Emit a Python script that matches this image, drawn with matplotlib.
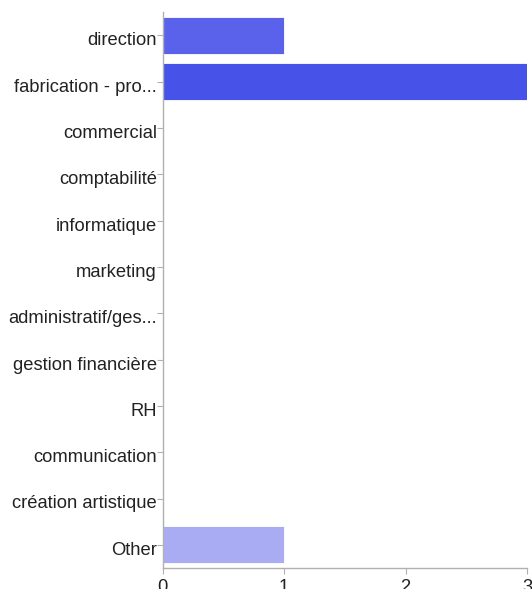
import matplotlib
matplotlib.use("Agg")
import matplotlib.pyplot as plt
import matplotlib.transforms as mtransforms

categories = ["direction", "fabrication - pro...", "commercial", "comptabilité",
              "informatique", "marketing", "administratif/ges...", "gestion financière",
              "RH", "communication", "création artistique", "Other"]
values = [1, 3, 0, 0, 0, 0, 0, 0, 0, 0, 0, 1]
colors = ["#5a62ec", "#4752e8", "#5a62ec", "#5a62ec", "#5a62ec", "#5a62ec",
          "#5a62ec", "#5a62ec", "#5a62ec", "#5a62ec", "#5a62ec", "#a9acf2"]
xticks = [0, 1, 2, 3]

plt.rcParams['font.family'] = ['Liberation Sans', 'DejaVu Sans']

fig = plt.figure(figsize=(5.32, 5.89), dpi=100)
W, H = 532, 589
ax = fig.add_axes([162.5 / W, 1 - 568 / H, (527 - 162.5) / W, (568 - 12) / H])

ypos = list(range(len(categories)))
ax.barh(ypos, values, height=0.8, color=colors, edgecolor="white", linewidth=0.6)
ax.set_ylim(len(categories) - 0.5, -0.5)
ax.set_xlim(0, 3)
ax.set_yticks(ypos)
ax.set_yticklabels(categories, fontsize=13.2, color="#222222")
ax.set_xticks(xticks)
ax.set_xticklabels([str(t) for t in xticks], fontsize=13.2, color="#222222")

for s in ["top", "right"]:
    ax.spines[s].set_visible(False)
for s in ["left", "bottom"]:
    ax.spines[s].set_color("#b0b0b0")
    ax.spines[s].set_linewidth(1)

ax.tick_params(axis="y", length=4, color="#b0b0b0", pad=0)
ax.tick_params(axis="x", length=4, color="#b0b0b0", pad=4)

offset = mtransforms.ScaledTranslation(0, -3.5 / 100, fig.dpi_scale_trans)
for lbl in ax.get_yticklabels():
    lbl.set_transform(lbl.get_transform() + offset)

fig.savefig("out.png", dpi=100)
